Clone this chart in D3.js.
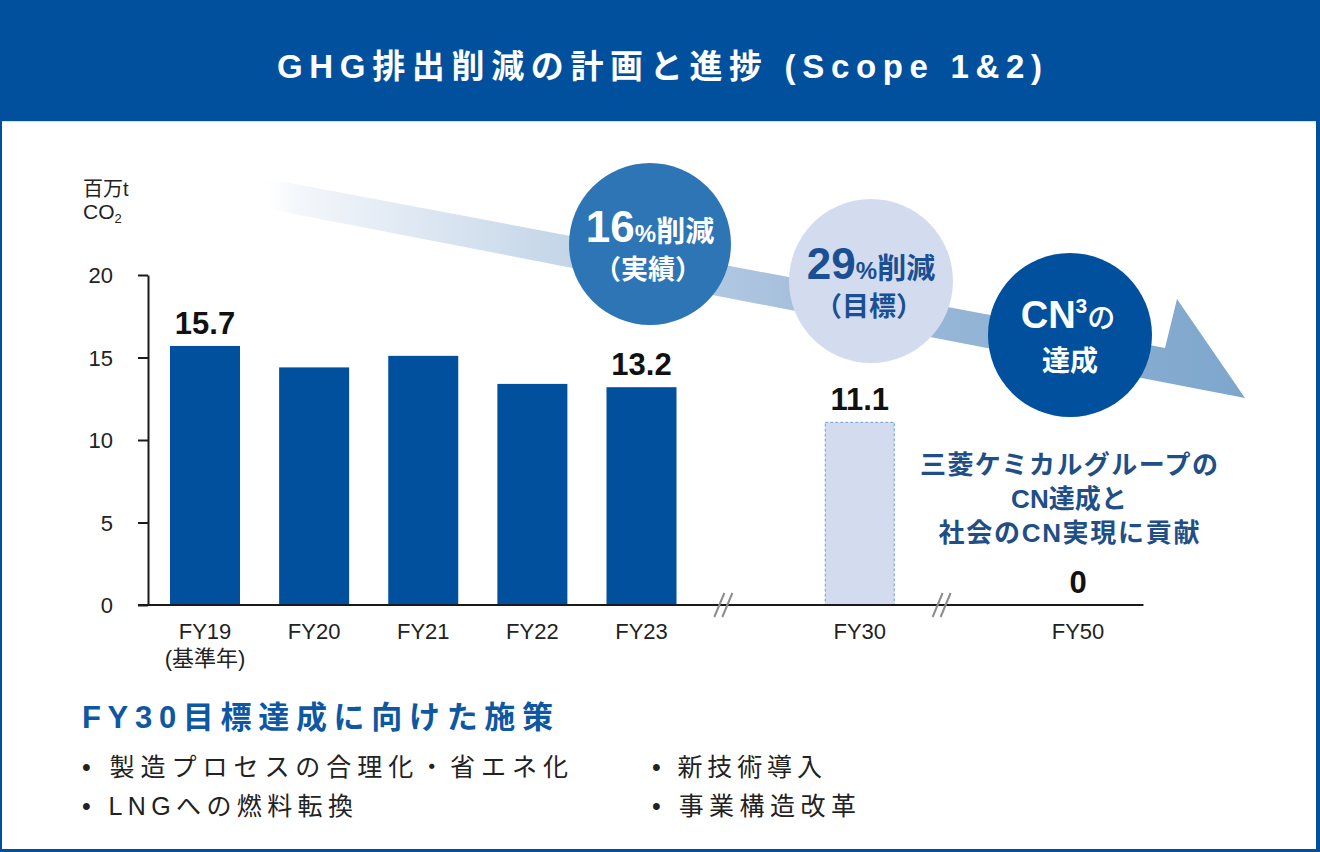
<!DOCTYPE html>
<html><head><meta charset="utf-8">
<script src="https://cdn.jsdelivr.net/npm/d3@7"></script>
<style>
body{margin:0;background:#fff;}
svg{display:block;}
text{font-family:"Liberation Sans",Arial,"Noto Sans CJK JP",sans-serif;}
</style>
</head><body>
<svg id="c" width="1320" height="852"></svg>
<script>
// ---------- data ----------
const categories = ["FY19","FY20","FY21","FY22","FY23","FY30","FY50"];
const values = [15.7, 14.4, 15.1, 13.4, 13.2, 11.1, 0];
const kinds = ["actual","actual","actual","actual","actual","target","goal"];
const valueLabels = ["15.7","","","","13.2","11.1","0"];
const subLabels = ["(基準年)","","","","","",""];
const yTicks = [0,5,10,15,20];
const slots = ["FY19","FY20","FY21","FY22","FY23","brk1","FY30","brk2","FY50"];
const breaks = ["brk1","brk2"];
const title = "GHG排出削減の計画と進捗 (Scope 1&2)";
const unitLines = ["百万t","CO"];
const messageLines = ["三菱ケミカルグループの","CN達成と","社会のCN実現に貢献"];
const measuresTitle = "FY30目標達成に向けた施策";
const measuresLeft = ["• 製造プロセスの合理化・省エネ化","• LNGへの燃料転換"];
const measuresRight = ["• 新技術導入","• 事業構造改革"];

// ---------- setup ----------
const W = 1320, H = 852;
const svg = d3.select("#c");
const defs = svg.append("defs");
const DARK = "#00509e";

// frame
svg.append("rect").attr("width", W).attr("height", H).attr("fill", DARK);
svg.append("rect").attr("x", 2).attr("y", 121).attr("width", 1314).attr("height", 728).attr("fill", "#fff");
svg.append("line").attr("x1", 2).attr("x2", 1316).attr("y1", 121.5).attr("y2", 121.5).attr("stroke", "#cfe0f1").attr("stroke-width", 1);

// title
svg.append("text").attr("x", 277).attr("y", 78)
  .attr("textLength", 765).attr("lengthAdjust", "spacing")
  .attr("font-size", 33).attr("font-weight", "bold").attr("fill", "#fff")
  .text(title);

// scales
const x = d3.scalePoint().domain(slots).range([205, 1078]);
const y = d3.scaleLinear().domain([0, 20]).range([605, 275]);
const barW = 70;
const step = x.step();

// ---------- arrow (decoration) ----------
const grad = defs.append("linearGradient").attr("id", "ag")
  .attr("gradientUnits", "userSpaceOnUse").attr("x1", 255).attr("y1", 0).attr("x2", 1245).attr("y2", 0);
[[0, "#ffffff", 0], [0.04, "#f4f7fb", 1], [0.3, "#c6d7e9", 1], [0.55, "#a5bfdc", 1], [0.8, "#8cafd3", 1], [1, "#7ea6cc", 1]]
  .forEach(s => grad.append("stop").attr("offset", s[0]).attr("stop-color", s[1]).attr("stop-opacity", s[2]));
const arrowPts = [[258, 177], [1165, 348], [1177, 299], [1245, 398], [258, 207]];
svg.append("path").attr("d", d3.line()(arrowPts) + "Z").attr("fill", "url(#ag)");

// ---------- axes ----------
const yAxis = svg.append("g").attr("transform", "translate(148,0)")
  .call(d3.axisLeft(y).tickValues(yTicks).tickSize(10).tickPadding(25).tickSizeOuter(0));
yAxis.select(".domain").attr("stroke", "#1a1a1a").attr("stroke-width", 2);
yAxis.selectAll(".tick line").attr("stroke", "#1a1a1a").attr("stroke-width", 2);
yAxis.selectAll(".tick text").attr("font-size", 22).attr("fill", "#222")
  .attr("font-family", "'Liberation Sans', Arial, sans-serif").attr("dy", "0.36em");

// unit label
svg.append("text").attr("x", 83).attr("y", 196).attr("font-size", 20).attr("fill", "#222").text(unitLines[0]);
const co = svg.append("text").attr("x", 83).attr("y", 219).attr("font-size", 21).attr("fill", "#222");
co.append("tspan").text(unitLines[1]);
co.append("tspan").attr("font-size", 13).attr("dy", 4).text("2");

// data objects
const data = categories.map((c, i) => ({cat: c, v: values[i], kind: kinds[i], label: valueLabels[i], sub: subLabels[i]}));

// bars
svg.selectAll(".bar").data(data.filter(d => d.v > 0)).join("rect").attr("class", "bar")
  .attr("x", d => x(d.cat) - barW / 2 + (d.kind === "target" ? 0.5 : 0))
  .attr("y", d => y(d.v) + (d.kind === "target" ? 0.5 : 0))
  .attr("width", d => barW - (d.kind === "target" ? 1 : 0))
  .attr("height", d => y(0) - y(d.v))
  .attr("fill", d => d.kind === "target" ? "#d3dcef" : DARK)
  .attr("stroke", d => d.kind === "target" ? "#6c9fd6" : "none")
  .attr("stroke-width", 1)
  .attr("stroke-dasharray", "3,2");

// x axis line
svg.append("line").attr("x1", 138).attr("x2", x("FY50") + step * 0.6)
  .attr("y1", y(0)).attr("y2", y(0)).attr("stroke", "#1a1a1a").attr("stroke-width", 2);

// break marks
breaks.forEach(b => {
  const bx = x(b) - step * 0.25;
  [-4, 4].forEach(off => {
    svg.append("line").attr("x1", bx + off - 5).attr("y1", y(0) + 12)
      .attr("x2", bx + off + 5).attr("y2", y(0) - 12)
      .attr("stroke", "#8c8c8c").attr("stroke-width", 2);
  });
});

// value labels
svg.selectAll(".vl").data(data.filter(d => d.label)).join("text").attr("class", "vl")
  .attr("x", d => x(d.cat)).attr("y", d => y(d.v) - 12)
  .attr("text-anchor", "middle").attr("font-size", 31).attr("font-weight", "bold").attr("fill", "#111")
  .text(d => d.label);

// category labels
svg.selectAll(".xl").data(data).join("text").attr("class", "xl")
  .attr("x", d => x(d.cat)).attr("y", 639)
  .attr("text-anchor", "middle").attr("font-size", 22).attr("fill", "#222")
  .text(d => d.cat);
svg.selectAll(".xs").data(data.filter(d => d.sub)).join("text").attr("class", "xs")
  .attr("x", d => x(d.cat)).attr("y", 666)
  .attr("text-anchor", "middle").attr("font-size", 22).attr("fill", "#222")
  .text(d => d.sub);

// ---------- circles (annotations) ----------
function circleNote(cx, cy, r, fill, color, big, pct, word, line2) {
  svg.append("circle").attr("cx", cx).attr("cy", cy).attr("r", r).attr("fill", fill);
  const t = svg.append("text").attr("x", cx).attr("y", cy - 2).attr("text-anchor", "middle")
    .attr("fill", color).attr("font-weight", "bold");
  t.append("tspan").attr("font-size", 44).text(big);
  t.append("tspan").attr("font-size", 24).text(pct);
  t.append("tspan").attr("font-size", 29).attr("font-family", "'Noto Sans CJK JP', sans-serif").text(word);
  svg.append("text").attr("x", cx - 2).attr("y", cy + 35).attr("text-anchor", "middle")
    .attr("fill", color).attr("font-size", 27).attr("font-weight", "bold")
    .attr("font-family", "'Noto Sans CJK JP', sans-serif").text(line2);
}
circleNote(650, 244, 81, "#2e75b6", "#fff", "16", "%", "削減", "（実績）");
circleNote(871, 281, 82, "#d3dcef", "#1a4f93", "29", "%", "削減", "（目標）");

// CN circle
svg.append("circle").attr("cx", 1070).attr("cy", 335).attr("r", 82).attr("fill", DARK);
const cn = svg.append("text").attr("x", 1068).attr("y", 328).attr("text-anchor", "middle")
  .attr("fill", "#fff").attr("font-weight", "bold");
cn.append("tspan").attr("font-size", 38).text("CN");
cn.append("tspan").attr("font-size", 21).attr("dy", -15).text("3");
cn.append("tspan").attr("font-size", 28).attr("dy", 15).attr("font-weight", 500)
  .attr("font-family", "'Noto Sans CJK JP', sans-serif").text("の");
svg.append("text").attr("x", 1070).attr("y", 371).attr("text-anchor", "middle")
  .attr("fill", "#fff").attr("font-size", 28).attr("font-weight", "bold")
  .attr("font-family", "'Noto Sans CJK JP', sans-serif").text("達成");

// message block
const msgW = [298, 116, 261];
const msgY = [474, 508, 542];
messageLines.forEach((s, i) => {
  svg.append("text").attr("x", 1069 - msgW[i] / 2).attr("y", msgY[i])
    .attr("textLength", msgW[i]).attr("lengthAdjust", "spacing")
    .attr("font-size", 26).attr("font-weight", "bold").attr("fill", "#1f4f86")
    .text(s);
});

// ---------- measures ----------
svg.append("text").attr("x", 82).attr("y", 728)
  .attr("textLength", 471).attr("lengthAdjust", "spacing")
  .attr("font-size", 31).attr("font-weight", "bold").attr("fill", "#0d57a3")
  .text(measuresTitle);
const leftW = [486, 271], rightW = [170, 204], rowY = [776, 815];
measuresLeft.forEach((s, i) => {
  svg.append("text").attr("x", 82).attr("y", rowY[i])
    .attr("textLength", leftW[i]).attr("lengthAdjust", "spacing")
    .attr("font-size", 25).attr("fill", "#222").text(s);
});
measuresRight.forEach((s, i) => {
  svg.append("text").attr("x", 652).attr("y", rowY[i])
    .attr("textLength", rightW[i]).attr("lengthAdjust", "spacing")
    .attr("font-size", 25).attr("fill", "#222").text(s);
});
</script>
</body></html>
